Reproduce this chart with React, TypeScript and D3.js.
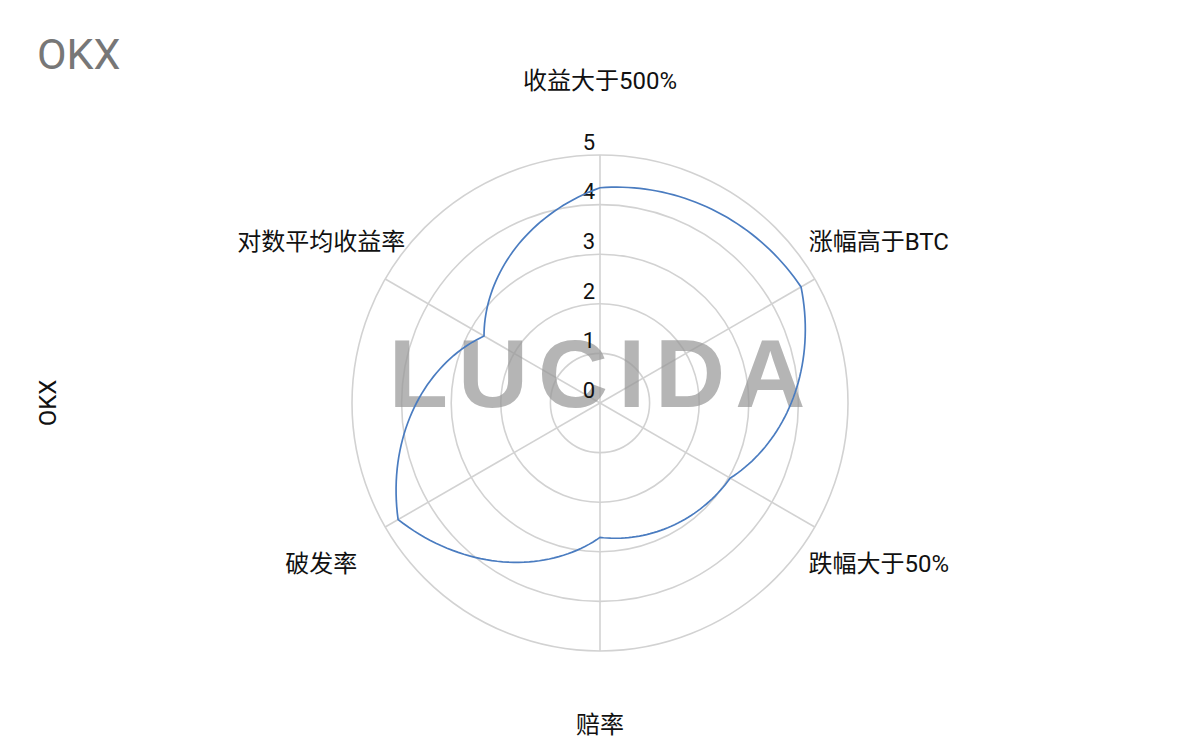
import { useMemo } from 'react';
import * as d3 from 'd3';

const categories = ['收益大于500%', '涨幅高于BTC', '跌幅大于50%', '赔率', '破发率', '对数平均收益率'];
const values = [4.34, 4.68, 3.03, 2.71, 4.7, 2.7];
const radialTicks = [0, 1, 2, 3, 4, 5];
const title = 'OKX';
const seriesName = 'OKX';
const watermark = 'LUCIDA';

const width = 1200;
const height = 742;
const cx = 600;
const cy = 403;
const outerR = 248;
const font = "Roboto, 'Noto Sans CJK SC', sans-serif";

export default function App() {
  const { rings, spokes, linePath, labels, tickLabels } = useMemo(() => {
    const n = categories.length;
    const angle = d3.scaleLinear().domain([0, n]).range([0, 2 * Math.PI]);
    const r = d3.scaleLinear().domain([0, 5]).range([0, outerR]);

    // straight segments in polar space -> spiral arcs on screen
    const steps = 40;
    const samples: [number, number][] = [];
    for (let i = 0; i < n; i++) {
      const v0 = values[i];
      const v1 = values[(i + 1) % n];
      for (let s = 0; s < steps; s++) {
        const t = s / steps;
        samples.push([angle(i + t), r(v0 + (v1 - v0) * t)]);
      }
    }
    const radial = d3
      .lineRadial<[number, number]>()
      .angle((d) => d[0])
      .radius((d) => d[1])
      .curve(d3.curveLinearClosed);

    const pos = (i: number, rad: number) => {
      const a = angle(i);
      return [rad * Math.sin(a), -rad * Math.cos(a)];
    };

    return {
      rings: radialTicks.filter((t) => t > 0).map((t) => r(t)),
      spokes: categories.map((_, i) => pos(i, outerR)),
      linePath: radial(samples) ?? '',
      labels: categories.map((c, i) => {
        const [x, y] = pos(i, 322);
        return { c, x, y };
      }),
      tickLabels: radialTicks.map((t) => ({ t, y: -r(t) })),
    };
  }, []);

  return (
    <div style={{ position: 'fixed', left: 0, top: 0, width, height, background: '#fff' }}>
      <svg width={width} height={height} style={{ display: 'block', fontFamily: font }}>
        <text x={37} y={69} fontSize={43} fill="#777">
          {title}
        </text>
        <text
          transform={`translate(56,${cy}) rotate(-90)`}
          textAnchor="middle"
          fontSize={24}
          fill="#111"
        >
          {seriesName}
        </text>
        <g transform={`translate(${cx},${cy})`}>
          {rings.map((rr, i) => (
            <circle key={i} r={rr} fill="none" stroke="#d2d2d2" strokeWidth={1.6} />
          ))}
          {spokes.map(([x, y], i) => (
            <line key={i} x1={0} y1={0} x2={x} y2={y} stroke="#d2d2d2" strokeWidth={1.6} />
          ))}
          <text
            x={2}
            y={4}
            textAnchor="middle"
            fontSize={97}
            fontWeight="bold"
            fontFamily="'Liberation Sans', Arial, sans-serif"
            letterSpacing={10}
            fill="#999"
            opacity={0.72}
          >
            {watermark}
          </text>
          {tickLabels.map(({ t, y }) => (
            <text key={t} x={-11} y={y - 13} dy="0.35em" textAnchor="middle" fontSize={22} fill="#111">
              {t}
            </text>
          ))}
          <path d={linePath} fill="none" stroke="#4a7cc0" strokeWidth={1.7} />
          {labels.map(({ c, x, y }) => (
            <text key={c} x={x} y={y} dy="0.35em" textAnchor="middle" fontSize={24} fill="#111">
              {c}
            </text>
          ))}
        </g>
      </svg>
    </div>
  );
}
